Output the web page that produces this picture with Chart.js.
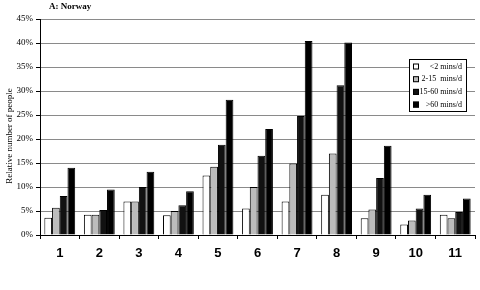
<!DOCTYPE html>
<html>
<head>
<meta charset="utf-8">
<script src="https://cdn.jsdelivr.net/npm/chart.js@4.4.1/dist/chart.umd.min.js"></script>
<style>
  html, body { margin: 0; padding: 0; background: #fff; }
  #wrap { position: relative; width: 480px; height: 290px; }
</style>
</head>
<body>
<div id="wrap"><canvas id="c" width="480" height="290"></canvas></div>
<script>
const categories = ['1','2','3','4','5','6','7','8','9','10','11'];
const seriesNames = ['<2 mins/d', '2-15  mins/d', '15-60 mins/d', '>60 mins/d'];
const under2 =   [3.6, 4.2, 7.0, 4.1, 12.4, 5.5, 7.0, 8.4, 3.5, 2.2, 4.2];
const m2to15 =   [5.7, 4.2, 7.0, 5.0, 14.2, 10.0, 14.9, 17.0, 5.3, 3.0, 3.5];
const m15to60 =  [8.1, 5.2, 10.0, 6.2, 18.8, 16.5, 24.8, 31.2, 11.9, 5.5, 4.8];
const over60 =   [14.0, 9.5, 13.2, 9.1, 28.2, 22.1, 40.4, 40.1, 18.6, 8.4, 7.6];
const yTicks = [0, 5, 10, 15, 20, 25, 30, 35, 40, 45];
const chartTitle = 'A: Norway';
const yTitle = 'Relative number of people';

const fills = ['#ffffff', '#bcbcbc', '#111111', '#000000'];
const seriesData = [under2, m2to15, m15to60, over60];

const overlay = {
  id: 'overlay',
  afterDraw(chart) {
    const ctx = chart.ctx;
    ctx.save();
    // title
    ctx.fillStyle = '#000';
    ctx.font = 'bold 9px "Liberation Serif", "Times New Roman", serif';
    ctx.textBaseline = 'middle';
    ctx.textAlign = 'left';
    ctx.fillText(chartTitle, 49, 7);
    // y axis title
    ctx.save();
    ctx.translate(10, 136);
    ctx.rotate(-Math.PI / 2);
    ctx.textAlign = 'center';
    ctx.font = '9px "Liberation Serif", "Times New Roman", serif';
    ctx.fillText(yTitle, 0, 0);
    ctx.restore();
    // legend box
    const lx = 409, ly = 59, lw = 57, lh = 52;
    ctx.fillStyle = '#fff';
    ctx.fillRect(lx, ly, lw, lh);
    ctx.strokeStyle = '#000';
    ctx.lineWidth = 1;
    ctx.strokeRect(lx + 0.5, ly + 0.5, lw, lh);
    ctx.font = '8px "Liberation Serif", "Times New Roman", serif';
    ctx.textAlign = 'right';
    ctx.textBaseline = 'middle';
    chart.data.datasets.forEach((ds, i) => {
      const cy = ly + 7.5 + i * 12.7;
      ctx.fillStyle = ds.backgroundColor;
      ctx.fillRect(413, cy - 3, 6, 6);
      ctx.strokeStyle = '#000';
      ctx.strokeRect(413.5, cy - 2.5, 5, 5);
      ctx.fillStyle = '#000';
      ctx.fillText(ds.label, 462, cy);
    });
    ctx.restore();
  }
};

new Chart(document.getElementById('c'), {
  type: 'bar',
  data: {
    labels: categories,
    datasets: seriesData.map((d, i) => ({
      label: seriesNames[i],
      data: d,
      backgroundColor: fills[i],
      borderColor: '#000',
      borderWidth: 1,
      categoryPercentage: 0.78,
      barPercentage: 1.0
    }))
  },
  options: {
    responsive: false,
    animation: false,
    devicePixelRatio: 1,
    layout: { padding: { top: 19, right: 5, bottom: 0, left: 0 } },
    plugins: {
      legend: { display: false },
      title: { display: false },
      tooltip: { enabled: false }
    },
    scales: {
      x: {
        afterFit(s) { s.height = 55; },
        grid: { display: true, drawOnChartArea: false, drawTicks: true, tickLength: 4, color: '#000', offset: true },
        border: { display: true, color: '#000', width: 1 },
        ticks: {
          color: '#000',
          padding: 7,
          font: { family: '"Liberation Sans", Arial, sans-serif', size: 13, weight: 'bold' }
        }
      },
      y: {
        min: 0, max: 45,
        afterFit(s) { s.width = 40; },
        afterBuildTicks(s) { s.ticks = yTicks.map(v => ({ value: v })); },
        grid: { color: '#8a8a8a', lineWidth: 1, tickColor: '#000', tickLength: 4, drawTicks: true },
        border: { display: true, color: '#000', width: 1 },
        ticks: {
          color: '#000',
          padding: 3,
          font: { family: '"Liberation Serif", "Times New Roman", serif', size: 9 },
          callback: v => v + '%'
        },
        title: { display: false }
      }
    }
  },
  plugins: [overlay]
});
</script>
</body>
</html>
